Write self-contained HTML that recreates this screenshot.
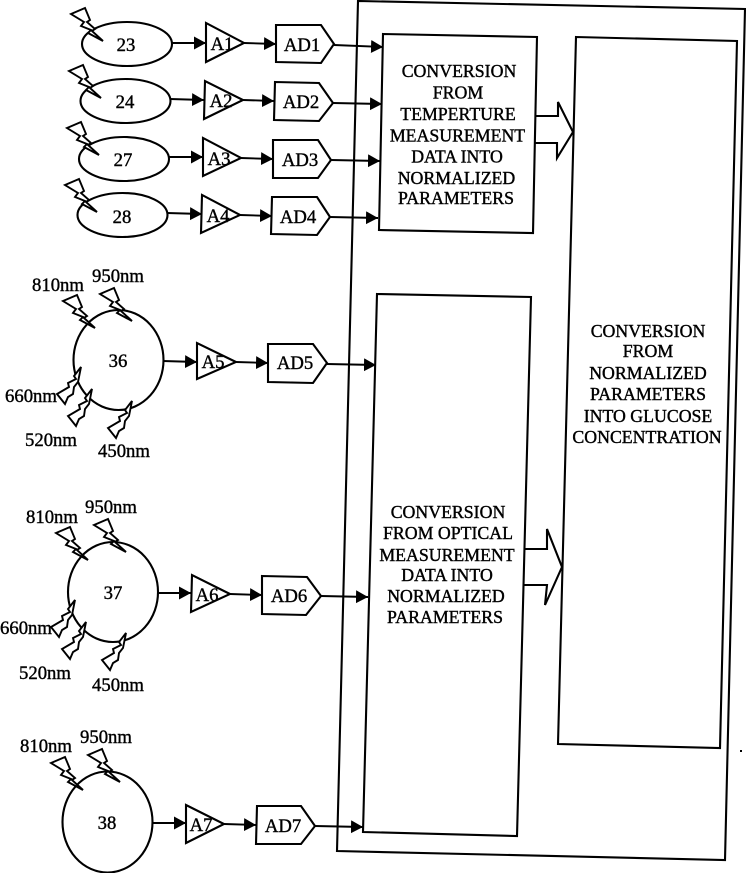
<!DOCTYPE html>
<html><head><meta charset="utf-8"><style>
html,body{margin:0;padding:0;background:#fff}
svg{display:block}
text{font-family:"Liberation Serif",serif;font-size:18.7px;fill:#000;stroke:#000;stroke-width:.4}
.b{font-size:17.8px}
.m{text-anchor:middle}
</style></head><body>
<svg width="746" height="873" viewBox="0 0 746 873" xmlns="http://www.w3.org/2000/svg">
<defs>
<marker id="a" markerUnits="userSpaceOnUse" markerWidth="13" markerHeight="14" refX="12" refY="6.5" orient="auto"><path d="M0 0L12 6.5L0 13Z" fill="#000"/></marker>
<polygon id="u" points="-32,-27 -18,-33 -13,-21 -16,-19 -8,-12 -11,-10 0,0 -15,-8 -12,-11 -22,-15 -19,-19" fill="#fff" stroke="#000" stroke-width="1.9" stroke-linejoin="miter"/>
<polygon id="d" points="0,0 -7,9 -5,12 -13,16 -12,20 -24,27 -16,37 -13,30 -8,27 -7,20 -3,15" fill="#fff" stroke="#000" stroke-width="1.9" stroke-linejoin="miter"/>
</defs>
<rect width="746" height="873" fill="#fff"/>
<g fill="none" stroke="#000" stroke-width="2.1">
<polygon points="358,1 745,9 725,860 337,851"/>
<polygon points="383,34 537,37 533,233 379,230" fill="#fff"/>
<polygon points="377,294 531,297 517,836 363,832" fill="#fff"/>
<polygon points="576,37 737,41 720,748 558,744" fill="#fff"/>
<polyline points="536,116 558,116 558,102 573,132 557,158 557,143 535,143"/>
<polyline points="525,549 547,549 547,529 562,567 545,605 547,585 524,585"/>

<ellipse cx="127" cy="44" rx="45" ry="22"/>
<ellipse cx="125.500" cy="101" rx="45" ry="22"/>
<ellipse cx="124" cy="159" rx="45" ry="22"/>
<ellipse cx="122.500" cy="215" rx="45" ry="22"/>
<ellipse cx="118.500" cy="360" rx="45" ry="50"/>
<ellipse cx="113" cy="592" rx="45" ry="50"/>
<ellipse cx="107.500" cy="822" rx="45" ry="50.500"/>

<polygon points="206,23 206,62 244,43"/>
<polygon points="205,81 204,119 243,100"/>
<polygon points="203,138 203,176 241,158"/>
<polygon points="202,195 201,233 240,215"/>
<polygon points="197,343 197,379 236,362"/>
<polygon points="192,575 191,612 230,594"/>
<polygon points="186,805 186,843 224,824"/>

<polygon points="276,25 321,25 334,44 321,63 276,62"/>
<polygon points="275,82 319,83 333,103 319,121 274,120"/>
<polygon points="273,140 318,140 331,160 318,178 273,178"/>
<polygon points="272,197 317,197 330,217 317,235 271,234"/>
<polygon points="268,344 313,344 327,363 313,383 268,382"/>
<polygon points="262,576 307,577 321,596 306,615 262,614"/>
<polygon points="257,806 301,806 315,826 301,844 256,844"/>
</g>
<g stroke="#000" stroke-width="1.9" fill="none">
<line x1="172" y1="43" x2="206" y2="43" marker-end="url(#a)"/>
<line x1="244" y1="43" x2="276" y2="44" marker-end="url(#a)"/>
<line x1="334" y1="45" x2="383" y2="47" marker-end="url(#a)"/>
<line x1="170" y1="99" x2="204" y2="100" marker-end="url(#a)"/>
<line x1="243" y1="100" x2="274" y2="101" marker-end="url(#a)"/>
<line x1="333" y1="103" x2="382" y2="104" marker-end="url(#a)"/>
<line x1="169" y1="157" x2="203" y2="157" marker-end="url(#a)"/>
<line x1="241" y1="158" x2="273" y2="159" marker-end="url(#a)"/>
<line x1="331" y1="160" x2="380" y2="161" marker-end="url(#a)"/>
<line x1="167" y1="213" x2="202" y2="214" marker-end="url(#a)"/>
<line x1="240" y1="215" x2="272" y2="216" marker-end="url(#a)"/>
<line x1="330" y1="217" x2="378" y2="218" marker-end="url(#a)"/>
<line x1="163" y1="361" x2="197" y2="362" marker-end="url(#a)"/>
<line x1="236" y1="362" x2="268" y2="363" marker-end="url(#a)"/>
<line x1="327" y1="364" x2="376" y2="365" marker-end="url(#a)"/>
<line x1="158" y1="593" x2="191" y2="593" marker-end="url(#a)"/>
<line x1="230" y1="594" x2="262" y2="595" marker-end="url(#a)"/>
<line x1="321" y1="596" x2="368" y2="597" marker-end="url(#a)"/>
<line x1="152" y1="823" x2="186" y2="823" marker-end="url(#a)"/>
<line x1="224" y1="824" x2="256" y2="825" marker-end="url(#a)"/>
<line x1="315" y1="826" x2="363" y2="827" marker-end="url(#a)"/>
</g>
<use href="#u" x="103" y="41"/><use href="#u" x="101" y="98"/><use href="#u" x="99" y="155"/><use href="#u" x="97" y="212"/>
<use href="#u" x="95" y="328"/><use href="#u" x="132" y="321"/>
<use href="#u" x="88" y="560"/><use href="#u" x="126" y="552"/>
<use href="#u" x="83" y="790"/><use href="#u" x="120" y="782"/>
<use href="#d" x="81" y="367"/><use href="#d" x="92" y="389"/><use href="#d" x="132" y="401"/>
<use href="#d" x="75" y="600"/><use href="#d" x="86" y="622"/><use href="#d" x="126" y="633"/>
<rect x="740" y="750" width="2" height="2" fill="#000"/>

<text class="m" x="126" y="51">23</text><text class="m" x="125" y="108">24</text><text class="m" x="123" y="166">27</text><text class="m" x="122" y="223">28</text>
<text class="m" x="118" y="367">36</text><text class="m" x="113" y="599">37</text><text class="m" x="107" y="829">38</text>
<text class="m" x="222" y="50">A1</text><text class="m" x="221" y="107">A2</text><text class="m" x="219" y="165">A3</text><text class="m" x="218" y="222">A4</text>
<text class="m" x="213" y="368">A5</text><text class="m" x="207" y="601">A6</text><text class="m" x="201" y="831">A7</text>
<text class="m" x="302" y="51">AD1</text><text class="m" x="301" y="108">AD2</text><text class="m" x="300" y="166">AD3</text><text class="m" x="298" y="223">AD4</text>
<text class="m" x="295" y="369">AD5</text><text class="m" x="289" y="602">AD6</text><text class="m" x="283" y="832">AD7</text>

<text x="32" y="291">810nm</text><text x="92" y="282">950nm</text><text x="5" y="402">660nm</text><text x="25" y="446">520nm</text><text x="98" y="457">450nm</text>
<text x="26" y="523">810nm</text><text x="85" y="513">950nm</text><text x="0" y="634">660nm</text><text x="19" y="679">520nm</text><text x="92" y="691">450nm</text>
<text x="20" y="752">810nm</text><text x="80" y="743">950nm</text>

<text class="b m" x="459" y="77">CONVERSION</text>
<text class="b m" x="458" y="98.500">FROM</text>
<text class="b m" x="458" y="120">TEMPERTURE</text>
<text class="b m" x="457.500" y="141.500">MEASUREMENT</text>
<text class="b m" x="457" y="162.500">DATA INTO</text>
<text class="b m" x="456.500" y="184">NORMALIZED</text>
<text class="b m" x="456" y="204">PARAMETERS</text>

<text class="b m" x="648" y="337">CONVERSION</text>
<text class="b m" x="648" y="357">FROM</text>
<text class="b m" x="648" y="379">NORMALIZED</text>
<text class="b m" x="648" y="400">PARAMETERS</text>
<text class="b m" x="648" y="422">INTO GLUCOSE</text>
<text class="b m" x="647" y="443">CONCENTRATION</text>

<text class="b m" x="448" y="518">CONVERSION</text>
<text class="b m" x="448" y="539">FROM OPTICAL</text>
<text class="b m" x="447" y="561">MEASUREMENT</text>
<text class="b m" x="447" y="581">DATA INTO</text>
<text class="b m" x="446" y="602">NORMALIZED</text>
<text class="b m" x="445" y="623">PARAMETERS</text>
</svg>
</body></html>
